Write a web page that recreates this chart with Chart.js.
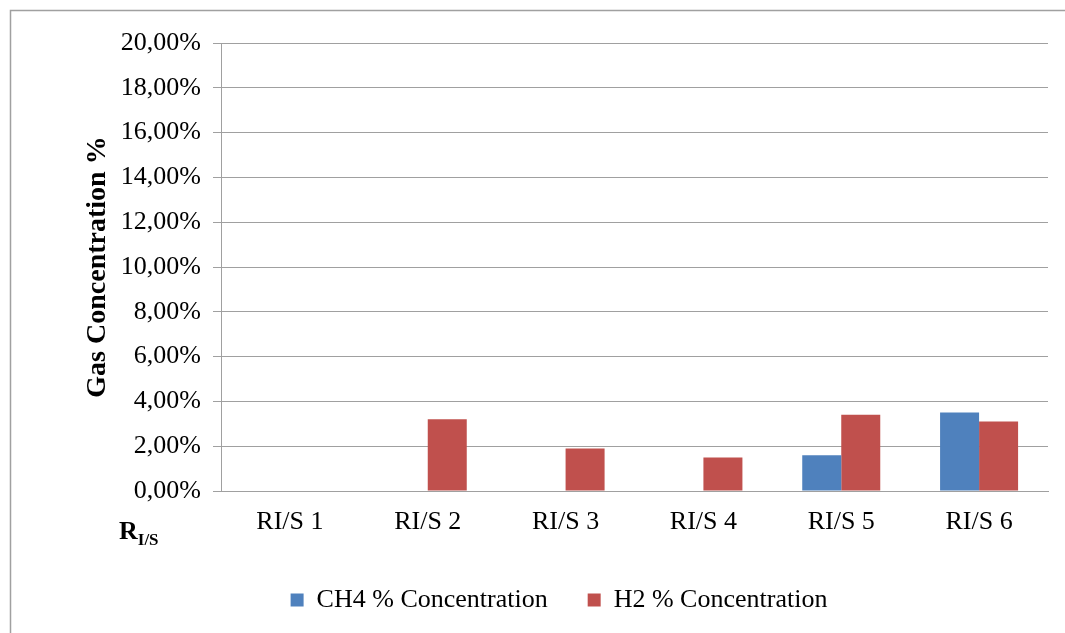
<!DOCTYPE html>
<html>
<head>
<meta charset="utf-8">
<script src="https://cdn.jsdelivr.net/npm/chart.js@4.4.1/dist/chart.umd.min.js"></script>
<style>
  html, body { margin: 0; padding: 0; background: #fff; }
  #wrap { width: 1065px; height: 633px; position: relative; }
</style>
</head>
<body>
<div id="wrap"><canvas id="gasChart" width="1065" height="633"></canvas></div>
<script>
// values, in percent
const categories = ['RI/S 1', 'RI/S 2', 'RI/S 3', 'RI/S 4', 'RI/S 5', 'RI/S 6'];
const ch4Values = [0, 0, 0, 0, 1.6, 3.5];
const h2Values = [0, 3.2, 1.9, 1.5, 3.4, 3.1];
const seriesNames = ['CH4 % Concentration', 'H2 % Concentration'];
const yTicks = [0, 2, 4, 6, 8, 10, 12, 14, 16, 18, 20];

const FONT = "'Liberation Serif', 'Times New Roman', serif";
const GRID = '#a0a0a0';

// grey frame round the chart plus the R I/S label
const extras = {
  id: 'extras',
  beforeDraw(chart) {
    const ctx = chart.ctx;
    ctx.save();
    ctx.fillStyle = '#fff';
    ctx.fillRect(0, 0, chart.width, chart.height);
    ctx.strokeStyle = GRID;
    ctx.lineWidth = 1.5;
    ctx.strokeRect(10.5, 10.5, 1200, 800);
    ctx.restore();
  },
  afterDraw(chart) {
    const ctx = chart.ctx;
    ctx.save();
    ctx.fillStyle = '#000';
    ctx.textBaseline = 'alphabetic';
    ctx.font = 'bold 26px ' + FONT;
    ctx.fillText('R', 119, 539);
    const w = ctx.measureText('R').width;
    ctx.font = 'bold 17px ' + FONT;
    ctx.fillText('I/S', 119 + w, 545);
    ctx.restore();
  }
};

new Chart(document.getElementById('gasChart').getContext('2d'), {
  type: 'bar',
  data: {
    labels: categories,
    datasets: [
      { label: seriesNames[0], data: ch4Values, backgroundColor: '#4F81BD' },
      { label: seriesNames[1], data: h2Values, backgroundColor: '#C0504D' }
    ]
  },
  options: {
    responsive: false,
    animation: false,
    devicePixelRatio: 1,
    barPercentage: 1,
    categoryPercentage: 0.566,
    layout: { padding: { left: 70, right: 17, top: 43, bottom: 10 } },
    plugins: {
      tooltip: { enabled: false },
      legend: {
        position: 'bottom',
        labels: {
          font: { family: FONT, size: 26 },
          color: '#000',
          boxWidth: 13,
          boxHeight: 13,
          padding: 40
        }
      }
    },
    scales: {
      x: {
        grid: { display: false, drawTicks: false },
        border: { display: true, color: GRID, width: 1 },
        ticks: { font: { family: FONT, size: 26 }, color: '#000', padding: 16 },
        afterFit: s => { s.height = 56; }
      },
      y: {
        min: 0,
        max: 20,
        afterBuildTicks: s => { s.ticks = yTicks.map(v => ({ value: v })); },
        grid: { color: GRID, lineWidth: 1, tickLength: 8 },
        border: { display: true, color: GRID, width: 1 },
        ticks: {
          font: { family: FONT, size: 26 },
          color: '#000',
          padding: 12,
          callback: v => v.toFixed(2).replace('.', ',') + '%'
        },
        title: {
          display: true,
          text: 'Gas Concentration %',
          font: { family: FONT, size: 28, weight: 'bold' },
          color: '#000',
          padding: { top: 11, bottom: 0 }
        },
        afterFit: s => { s.width = 151; }
      }
    }
  },
  plugins: [extras]
});
</script>
</body>
</html>
